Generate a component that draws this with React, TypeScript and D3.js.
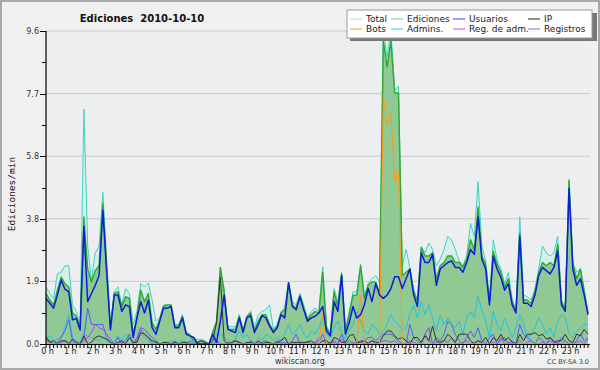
import * as d3 from "d3";

// values per 10 minutes, 0:00 .. 23:50 (144 points), ediciones/min
const total = [
  1.75, 1.55, 1.4, 2.15, 2.2, 2.4, 2.4, 1.2, 1.0, 0.55, 7.2, 3.0,
  1.95, 2.8, 3.0, 4.65, 2.6, 0.55, 1.6, 1.75, 1.2, 1.7, 1.55, 0.6,
  1.0, 1.85, 1.75, 1.87, 1.35, 0.7, 0.8, 1.2, 1.2, 1.2, 0.6, 0.6,
  0.9, 0.35, 0.3, 0.15, 0.05, 0.15, 0.1, 0.0, 0.4, 0.6, 2.35, 1.7,
  0.5, 0.55, 0.5, 0.9, 0.45, 0.85, 1.0, 0.5, 0.9, 1.0, 1.05, 1.2,
  0.45, 0.6, 1.0, 1.1, 1.9, 1.3, 1.2, 1.55, 1.2, 0.8, 1.0, 1.1,
  1.0, 2.37, 0.55, 0.35, 1.7, 1.3, 2.2, 0.45, 1.0, 1.6, 1.6, 2.45,
  1.5, 1.85, 2.0, 2.1, 1.9, 9.6, 8.8, 9.6, 7.8, 7.9, 2.4, 2.9,
  2.35, 1.7, 1.35, 3.0, 2.8, 3.1, 2.9, 2.4, 2.6, 2.9, 3.3, 3.2,
  2.9, 2.55, 2.4, 2.7, 3.7, 3.3, 4.98, 3.0, 2.55, 1.35, 3.2, 2.6,
  2.3, 1.85, 2.2, 1.35, 1.05, 3.9, 1.5, 1.45, 1.35, 1.7, 2.3, 3.0,
  2.8, 2.7, 2.8, 3.3, 1.35, 1.1, 5.0, 2.5, 2.2, 2.3, 1.7, 0.95,
];
const ediciones = [
  1.55, 1.35, 1.2, 1.65, 2.05, 1.85, 1.75, 0.95, 0.85, 0.5, 3.9, 2.3,
  1.9, 2.25, 2.4, 4.3, 2.4, 0.5, 1.55, 1.6, 1.15, 1.45, 1.4, 0.3,
  0.85, 1.65, 1.3, 1.55, 0.65, 0.45, 0.75, 1.15, 1.2, 1.2, 0.55, 0.55,
  0.85, 0.35, 0.25, 0.1, 0.05, 0.1, 0.05, 0.0, 0.35, 0.7, 2.35, 1.6,
  0.45, 0.45, 0.45, 0.85, 0.4, 0.85, 0.95, 0.4, 0.7, 0.9, 0.9, 0.6,
  0.4, 0.55, 0.95, 1.05, 1.85, 1.2, 1.1, 1.5, 1.1, 0.75, 0.9, 1.0,
  0.95, 2.2, 0.5, 0.3, 1.6, 1.15, 2.15, 0.35, 0.9, 1.5, 1.5, 2.4,
  1.4, 1.8, 1.9, 1.9, 1.55, 9.3, 8.5, 9.3, 7.7, 7.7, 2.1, 2.2,
  2.3, 1.6, 1.3, 2.95, 2.7, 2.7, 2.8, 2.0, 2.4, 2.5, 2.7, 2.7,
  2.5, 2.5, 2.35, 2.6, 3.2, 2.9, 4.2, 2.7, 2.45, 1.3, 2.85, 2.45,
  2.2, 1.75, 2.0, 1.3, 1.0, 3.4, 1.35, 1.35, 1.25, 1.6, 2.2, 2.5,
  2.4, 2.5, 2.4, 3.05, 1.3, 1.05, 5.03, 2.45, 2.0, 2.3, 1.6, 0.95,
];
const usuarios = [
  1.4, 1.25, 1.1, 1.5, 1.96, 1.68, 1.6, 0.74, 0.78, 0.43, 3.6, 1.3,
  1.55, 1.8, 2.1, 4.1, 2.2, 0.43, 1.5, 1.5, 1.0, 1.2, 1.15, 0.2,
  0.8, 1.3, 0.95, 1.35, 0.5, 0.3, 0.7, 1.1, 1.1, 1.15, 0.5, 0.5,
  0.8, 0.3, 0.25, 0.2, 0.0, 0.0, 0.0, 0.0, 0.3, 0.05, 0.7, 1.5,
  0.45, 0.4, 0.35, 0.8, 0.35, 0.8, 0.87, 0.35, 0.6, 0.87, 0.8, 0.55,
  0.35, 0.5, 0.9, 0.8, 1.88, 1.15, 1.05, 1.45, 1.05, 0.7, 0.8, 0.85,
  0.95, 1.15, 0.4, 0.25, 1.3, 1.0, 2.1, 0.3, 0.65, 1.15, 0.8, 0.9,
  1.2, 1.7, 1.3, 1.85, 1.5, 1.4, 1.5, 1.7, 2.06, 2.06, 1.7, 2.0,
  2.3, 1.5, 1.15, 2.8, 2.5, 2.5, 2.75, 1.8, 2.3, 2.4, 2.5, 2.55,
  2.35, 2.35, 2.2, 2.5, 2.9, 2.75, 3.9, 2.6, 2.3, 1.2, 2.7, 2.3,
  2.05, 1.65, 1.85, 1.2, 0.95, 3.3, 1.25, 1.25, 1.15, 1.5, 2.1, 2.35,
  2.25, 2.15, 2.35, 2.85, 1.2, 1.0, 4.77, 2.3, 1.8, 2.0, 1.5, 0.9,
];
const ip = [
  0.2, 0.05, 0.1, 0.0, 0.1, 0.1, 0.0, 0.15, 0.05, 0.0, 0.25, 0.0,
  0.05, 0.2, 0.25, 0.2, 0.15, 0.05, 0.0, 0.05, 0.1, 0.0, 0.2, 0.05,
  0.05, 0.35, 0.3, 0.2, 0.1, 0.05, 0.0, 0.05, 0.05, 0.0, 0.05, 0.0,
  0.05, 0.05, 0.0, 0.0, 0.05, 0.1, 0.05, 0.0, 0.1, 0.65, 2.06, 0.1,
  0.0, 0.05, 0.1, 0.05, 0.0, 0.05, 0.05, 0.0, 0.1, 0.0, 0.05, 0.05,
  0.0, 0.05, 0.1, 0.2, 0.0, 0.05, 0.05, 0.05, 0.05, 0.05, 0.1, 0.0,
  0.0, 0.1, 0.1, 0.0, 0.2, 0.15, 0.05, 0.05, 0.25, 0.3, 0.05, 0.05,
  0.1, 0.0, 0.1, 0.05, 0.05, 0.25, 0.4, 0.4, 0.25, 0.15, 0.2, 0.1,
  0.0, 0.2, 0.2, 0.05, 0.25, 0.1, 0.55, 0.1, 0.05, 0.1, 0.3, 0.2,
  0.05, 0.3, 0.3, 0.3, 0.1, 0.0, 0.1, 0.05, 0.2, 0.0, 0.2, 0.1,
  0.3, 0.1, 0.2, 0.05, 0.0, 0.3, 0.1, 0.3, 0.3, 0.35, 0.25, 0.3,
  0.15, 0.2, 0.05, 0.1, 0.1, 0.3, 0.1, 0.05, 0.3, 0.25, 0.45, 0.3,
];
const bots = [
  0, 0, 0, 0, 0, 0, 0, 0, 0, 0, 0, 0,
  0, 0, 0, 0, 0, 0, 0, 0, 0, 0, 0, 0,
  0, 0, 0, 0, 0, 0, 0, 0, 0, 0, 0, 0,
  0, 0, 0, 0, 0, 0, 0, 0, 0, 0, 0, 0,
  0, 0, 0, 0, 0, 0, 0, 0, 0, 0, 0, 0,
  0, 0, 0, 0, 0, 0, 0, 0, 0, 0, 0, 0,
  0, 0.9, 0, 0, 0, 0, 0, 0, 0, 0, 0, 1.5,
  0, 0, 0, 0, 0, 7.6, 6.7, 7.1, 5.0, 5.3, 0, 0,
  0, 0, 0, 0, 0, 0, 0, 0, 0, 0, 0, 0,
  0, 0, 0, 0, 0, 0, 0, 0, 0, 0, 0, 0,
  0, 0, 0, 0, 0, 0, 0, 0, 0, 0, 0, 0,
  0, 0, 0, 0, 0, 0, 0, 0, 0, 0, 0, 0,
];
const admins = [
  0.2, 0.25, 0.1, 0.15, 0.2, 0.5, 0.9, 0.2, 0.1, 0.05, 0.3, 0.25,
  0.2, 0.15, 0.1, 0.2, 0.1, 0.0, 0.1, 0.25, 0.1, 0.3, 0.2, 0.0,
  0.1, 0.3, 0.2, 0.1, 0.05, 0.1, 0.0, 0.05, 0.0, 0.1, 0.0, 0.05,
  0.1, 0.0, 0.0, 0.1, 0.15, 0.1, 0.0, 0.0, 0.05, 0.3, 0.3, 0.2,
  0.1, 0.05, 0.15, 0.4, 0.2, 0.3, 0.1, 0.05, 0.2, 0.1, 0.3, 0.25,
  0.1, 0.2, 0.1, 0.3, 0.6, 0.3, 0.4, 0.6, 0.3, 0.2, 0.4, 0.3,
  0.5, 0.8, 0.3, 0.2, 0.5, 0.7, 0.35, 0.15, 0.4, 0.6, 1.0, 0.7,
  0.4, 0.3, 0.6, 0.5, 0.3, 0.4, 0.6, 0.9, 0.7, 0.6, 0.4, 0.5,
  0.9, 1.2, 0.8, 1.3, 0.9, 1.2, 0.8, 0.4, 0.9, 0.6, 0.8, 0.6,
  0.5, 0.7, 0.3, 0.8, 1.0, 0.8, 1.5, 1.0, 0.7, 0.2, 1.0, 0.6,
  0.4, 0.8, 0.5, 0.2, 0.5, 0.9, 0.6, 0.2, 0.3, 0.5, 0.8, 0.6,
  0.3, 0.5, 0.2, 0.7, 0.9, 0.8, 0.3, 0.2, 0.4, 0.5, 0.6, 0.6,
];
const regAdm = [
  0.1, 0.05, 0, 0, 0.05, 0.1, 0.05, 0, 0, 0, 0.1, 0.2,
  0.35, 0.6, 0.5, 0.45, 0.3, 0.15, 0, 0, 0.05, 0, 0, 0,
  0.1, 0.45, 0.3, 0.2, 0, 0, 0, 0, 0, 0, 0, 0,
  0, 0, 0, 0, 0, 0, 0, 0, 0, 0.05, 0, 0,
  0, 0, 0, 0.05, 0, 0, 0, 0, 0.05, 0, 0, 0,
  0, 0, 0.05, 0, 0, 0.05, 0, 0, 0, 0.1, 0, 0,
  0.2, 0.1, 0, 0, 0.05, 0, 0.15, 0, 0, 0.05, 0, 0.1,
  0, 0.05, 0.1, 0, 0.05, 0.1, 0.1, 0.05, 0.1, 0, 0, 0,
  0.1, 0.05, 0, 0, 0.3, 0.1, 0, 0.05, 0, 0.1, 0.05, 0.2,
  0, 0, 0.05, 0.1, 0, 0.05, 0.1, 0, 0, 0, 0.05, 0,
  0.2, 0, 0.05, 0, 0, 0.1, 0, 0.05, 0.1, 0, 0, 0.05,
  0, 0.1, 0, 0.05, 0, 0.1, 0, 0, 0.05, 0.1, 0, 0.15,
];
const registros = [
  0.2, 0.1, 0.0, 0.05, 0.2, 0.4, 0.75, 0.1, 0.0, 0.0, 0.2, 1.1,
  0.6, 0.6, 0.6, 0.6, 0.2, 0.05, 0.0, 0.2, 0.0, 0.1, 0.3, 0.0,
  0.2, 0.5, 0.45, 0.3, 0.2, 0.1, 0.0, 0.0, 0.0, 0.0, 0.1, 0.0,
  0.0, 0.0, 0.1, 0.0, 0.0, 0.0, 0.0, 0.0, 0.0, 0.1, 0.0, 0.0,
  0.05, 0.0, 0.1, 0.05, 0.0, 0.0, 0.1, 0.0, 0.0, 0.05, 0.1, 0.0,
  0.0, 0.1, 0.0, 0.05, 0.0, 0.1, 0.3, 0.0, 0.0, 0.1, 0.0, 0.05,
  0.1, 0.3, 0.0, 0.05, 0.1, 0.0, 0.3, 0.0, 0.1, 0.0, 0.05, 0.1,
  0.1, 0.2, 0.2, 0.1, 0.2, 0.3, 0.3, 0.3, 0.2, 0.1, 0.0, 0.0,
  0.6, 0.2, 0.1, 0.0, 0.3, 0.5, 0.0, 0.2, 0.1, 0.3, 0.7, 0.6,
  0.3, 0.1, 0.0, 0.2, 0.4, 0.2, 0.5, 0.1, 0.0, 0.2, 0.3, 0.0,
  0.1, 0.2, 0.0, 0.1, 0.0, 0.6, 0.3, 0.2, 0.1, 0.0, 0.2, 0.1,
  0.0, 0.2, 0.1, 0.0, 0.2, 0.1, 0.0, 0.0, 0.1, 0.3, 0.1, 0.2,
];

const hourLabels = [
  "0 h", "1 h", "2 h", "3 h", "4 h", "5 h", "6 h", "7 h", "8 h", "9 h", "10 h", "11 h",
  "12 h", "13 h", "14 h", "15 h", "16 h", "17 h", "18 h", "19 h", "20 h", "21 h", "22 h", "23 h",
];
const yTickValues = [0, 1.92, 3.84, 5.76, 7.68, 9.6];

const W = 600;
const H = 370;
const FONT = "'DejaVu Sans', Verdana, sans-serif";

const x = d3.scaleLinear().domain([0, total.length - 1]).range([46, 588]);
const y = d3.scaleLinear().domain([0, 9.6]).range([344, 31]);

const area = d3
  .area<number>()
  .x((_, i) => x(i))
  .y0(y(0))
  .y1((d) => y(d));
const line = d3
  .line<number>()
  .x((_, i) => x(i))
  .y((d) => y(d));

// drawing order, bottom to top
const lineSeries = [
  { values: total, color: "#3fd2c4", width: 1 },
  { values: ediciones, color: "#2fa82f", width: 1.4 },
  { values: admins, color: "#22c3e2", width: 1 },
  { values: registros, color: "#5a5aff", width: 1 },
  { values: regAdm, color: "#c03ce8", width: 1 },
  { values: ip, color: "#333333", width: 1 },
  { values: bots, color: "#ff9a10", width: 1 },
  { values: usuarios, color: "#0c1ed6", width: 1.5 },
];

const legendItems = [
  { label: "Total", color: "#9be6de" },
  { label: "Ediciones", color: "#7ccd7c" },
  { label: "Usuarios", color: "#3a3aff" },
  { label: "IP", color: "#222222" },
  { label: "Bots", color: "#ffa020" },
  { label: "Admins.", color: "#33cce0" },
  { label: "Reg. de adm.", color: "#e040e8" },
  { label: "Registros", color: "#7070ff" },
];
const legendCols = [350, 391, 453, 528];

export default function App() {
  const minorY = d3.range(0, 9.61, 0.96);
  return (
    <svg
      width={W}
      height={H}
      style={{ position: "absolute", left: 0, top: 0, fontFamily: FONT }}
    >
      <rect x={0} y={0} width={W} height={H} fill="#f0f0f0" />
      <rect x={1} y={1} width={W - 2} height={H - 2} fill="none" stroke="#a8a8a8" strokeWidth={2} />
      <rect x={46} y={31} width={544} height={313} fill="#eceef0" />

      {/* grid */}
      {yTickValues.slice(1).map((v) => (
        <line key={v} x1={46} x2={590} y1={y(v)} y2={y(v)} stroke="#c9c9c9" strokeWidth={1} />
      ))}

      {/* areas */}
      <path d={area(total) || ""} fill="#d6efe9" />
      <path d={area(ediciones) || ""} fill="#90c993" />

      {lineSeries.map((s, i) => (
        <path
          key={i}
          d={line(s.values) || ""}
          fill="none"
          stroke={s.color}
          strokeWidth={s.width}
          strokeLinejoin="round"
        />
      ))}

      {/* y axis */}
      <line x1={46} x2={46} y1={31} y2={344} stroke="#000" strokeWidth={1.2} />
      {minorY.map((v, i) => (
        <line
          key={i}
          x1={i % 2 === 0 ? 40 : 42}
          x2={46}
          y1={Math.round(y(v)) + 0.5}
          y2={Math.round(y(v)) + 0.5}
          stroke="#000"
        />
      ))}
      {yTickValues.map((v) => (
        <text key={v} x={39} y={y(v) + 3} fontSize={8} textAnchor="end" fill="#333">
          {v.toFixed(1)}
        </text>
      ))}
      <text
        transform="translate(15,194) rotate(-90)"
        fontSize={9.5}
        textAnchor="middle"
        fontFamily="'DejaVu Sans Mono', monospace"
        fill="#111"
      >
        Ediciones/min
      </text>

      {/* x axis */}
      <line x1={46} x2={590} y1={344.5} y2={344.5} stroke="#000" strokeWidth={1.2} />
      {d3.range(total.length).map((i) => (
        <line key={i} x1={x(i)} x2={x(i)} y1={344} y2={348} stroke="#000" />
      ))}
      {hourLabels.map((h, i) => (
        <text key={h} x={x(i * 6) + 1.5} y={354} fontSize={8} textAnchor="middle" fill="#222">
          {h}
        </text>
      ))}
      <text x={300} y={364} fontSize={8} textAnchor="middle" fill="#333">
        wikiscan.org
      </text>
      <text x={589} y={364} fontSize={6.5} textAnchor="end" fill="#444">
        CC BY-SA 3.0
      </text>

      {/* title */}
      <text x={142} y={22} fontSize={10} fontWeight="bold" textAnchor="middle" fill="#111">
        Ediciones{"\u00a0\u00a0"}2010-10-10
      </text>

      {/* legend */}
      <rect x={350} y={13} width={247} height={28} fill="#777" />
      <rect x={347} y={10} width={245} height={28} fill="#fff" stroke="#999" strokeWidth={1} />
      {legendItems.map((it, i) => {
        const col = i % 4;
        const row = Math.floor(i / 4);
        const lx = legendCols[col];
        const ly = 19 + row * 10;
        return (
          <g key={it.label}>
            <line x1={lx} x2={lx + 12} y1={ly} y2={ly} stroke={it.color} strokeWidth={1} />
            <text x={lx + 16} y={ly + 3} fontSize={9} fill="#222">
              {it.label}
            </text>
          </g>
        );
      })}
    </svg>
  );
}
